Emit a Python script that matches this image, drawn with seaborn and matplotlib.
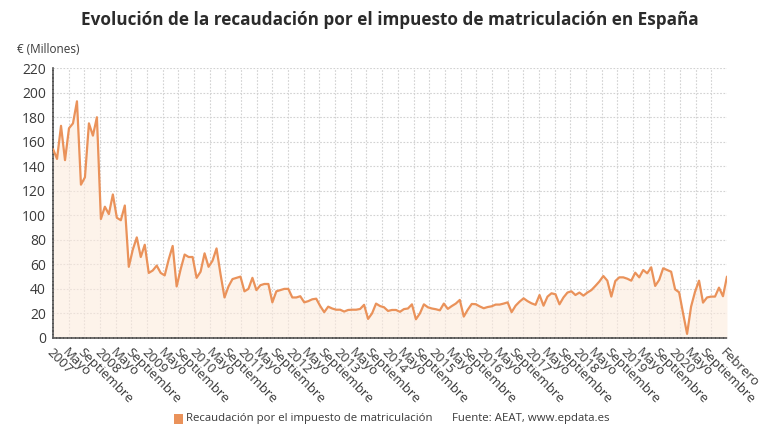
import numpy as np
import pandas as pd
import matplotlib
matplotlib.use("Agg")
import matplotlib.pyplot as plt
import seaborn as sns

# Monthly data, January 2007 - February 2021 (millions of euros)
values_2007 = [154, 146, 173, 145, 171, 175, 193, 125, 131, 175, 165, 180]
values_2008 = [97, 107, 101, 117, 98, 96, 108, 58, 72, 82, 66, 76]
values_2009 = [53, 55, 59, 53, 51, 64, 75, 42, 56, 68, 66, 66]
values_2010 = [49, 54, 69, 58, 63, 73, 52, 33, 42, 48, 49, 50]
values_2011 = [38, 40, 49, 39, 43, 44, 44, 29, 38, 39, 40, 40]
values_2012 = [33, 33, 34, 29, 30, 31.5, 32, 26, 21, 25.5, 24, 23]
values_2013 = [23, 21.5, 22.8, 23, 23, 23.6, 27, 15.5, 20, 28, 26, 25]
values_2014 = [22, 22.8, 22.8, 21.3, 23.5, 24, 27.4, 15.2, 20, 27.4, 25, 24]
values_2015 = [23.4, 22.5, 28, 23.7, 26, 28, 31, 17.4, 23, 27.7, 27.5, 25.7]
values_2016 = [24.2, 25.2, 25.8, 27.2, 27.2, 28, 29, 21, 26.3, 29.6, 32.3, 30]
values_2017 = [28.2, 27, 35, 26.3, 33.7, 36.4, 35.6, 27.4, 33, 37, 38, 35]
values_2018 = [37, 34.5, 37, 39, 42.4, 46, 50.5, 46.7, 33.7, 46.4, 49.4, 49.4]
values_2019 = [48.3, 46.7, 53.2, 49.4, 55.4, 52.7, 57.6, 42.4, 47.3, 56.8, 55.4, 54]
values_2020 = [39.6, 37.2, 20, 3.3, 25.5, 37.7, 46.7, 28.8, 33, 33.7, 33.7, 41]
values_2021 = [34, 50]

series = (values_2007 + values_2008 + values_2009 + values_2010 + values_2011
          + values_2012 + values_2013 + values_2014 + values_2015 + values_2016
          + values_2017 + values_2018 + values_2019 + values_2020 + values_2021)

month_names = ["Enero", "Febrero", "Marzo", "Abril", "Mayo", "Junio", "Julio",
               "Agosto", "Septiembre", "Octubre", "Noviembre", "Diciembre"]

df = pd.DataFrame({"idx": np.arange(len(series)), "valor": series})

# tick labels: every 4 months (year / Mayo / Septiembre) plus the last month
tick_idx = list(range(0, len(series) - 4, 4)) + [len(series) - 1]
tick_labels = []
for i in tick_idx:
    m = i % 12
    tick_labels.append(str(2007 + i // 12) if m == 0 else month_names[m])

LINE = "#EA925A"
FILL = "#FCEBDD"
TXT = "#3a3a3a"

sns.set_style("whitegrid")
plt.rcParams["font.family"] = ["Open Sans", "DejaVu Sans"]

fig = plt.figure(figsize=(7.8, 4.4), dpi=100)
ax = fig.add_axes([0.068, 0.232, 0.864, 0.613])

ax.fill_between(df["idx"], df["valor"], 0, color=FILL, alpha=0.6, lw=0, zorder=1)
sns.lineplot(data=df, x="idx", y="valor", ax=ax, color=LINE, lw=1.6, zorder=3)

ax.set_xlim(0, len(series) - 1)
ax.set_ylim(0, 220)
ax.set_yticks(range(0, 221, 20))
ax.set_xticks(tick_idx)
ax.set_xticklabels(tick_labels, rotation=-45, ha="left", va="top",
                   rotation_mode="anchor", fontsize=9.5, color=TXT)
ax.set_xticks(np.linspace(0, len(series) - 1, 44), minor=True)
ax.tick_params(axis="y", labelsize=10, colors=TXT, length=3, width=0.8, pad=2)
ax.tick_params(axis="x", which="major", length=3, width=0.8, color="#555555", pad=3)
ax.tick_params(axis="x", which="minor", length=0)

ax.grid(False)
ax.grid(axis="y", which="major", color="#d2d2d2", linestyle=(0, (1.5, 1.5)), lw=0.8)
ax.grid(axis="x", which="minor", color="#d2d2d2", linestyle=(0, (1.5, 1.5)), lw=0.8)

for s in ["top", "right"]:
    ax.spines[s].set_visible(False)
for s in ["left", "bottom"]:
    ax.spines[s].set_color("#555555")
    ax.spines[s].set_linewidth(1.2)
    ax.spines[s].set_linestyle((0, (1.5, 0.8)))

ax.set_xlabel("")
ax.set_ylabel("")

fig.text(0.5, 0.955, "Evolución de la recaudación por el impuesto de matriculación en España",
         ha="center", va="center", fontsize=12.3, fontweight="bold", color="#2b2b2b")
fig.text(0.022, 0.888, "€ (Millones)", ha="left", va="center", fontsize=8.5, color=TXT)

# legend row at the bottom
fig.patches.append(plt.Rectangle((0.223, 0.036), 0.011, 0.024, transform=fig.transFigure,
                                 color=LINE, lw=0))
fig.text(0.238, 0.048, "Recaudación por el impuesto de matriculación",
         ha="left", va="center", fontsize=8.2, color=TXT)
fig.text(0.58, 0.048, "Fuente: AEAT, www.epdata.es",
         ha="left", va="center", fontsize=8.2, color=TXT)

fig.savefig("out.png", dpi=100)
